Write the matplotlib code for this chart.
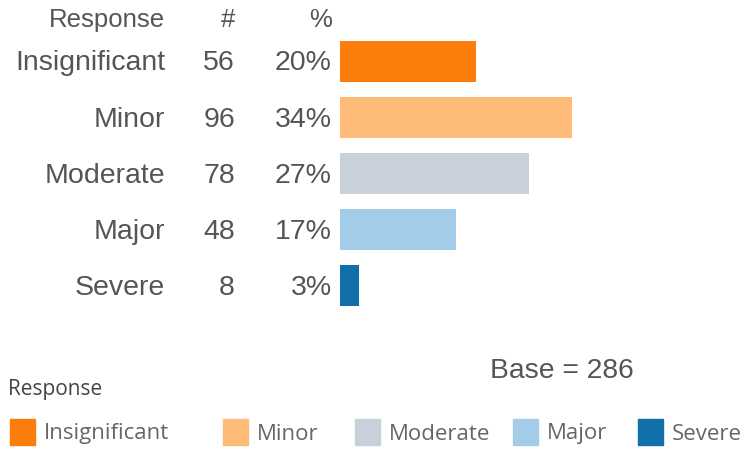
import matplotlib.pyplot as plt
import matplotlib.transforms as mtransforms
from matplotlib.patches import Rectangle

plt.rcParams['font.family'] = ['Liberation Sans', 'DejaVu Sans']

responses = ['Insignificant', 'Minor', 'Moderate', 'Major', 'Severe']
counts = [56, 96, 78, 48, 8]
percents = ['20%', '34%', '27%', '17%', '3%']
base = 286
colors = ['#FC7D0B', '#FFBC79', '#C8D0D9', '#A3CCE9', '#1170AA']

W, H = 744, 450
fig = plt.figure(figsize=(W / 100, H / 100), dpi=100)

# bar axes: starts at x=340px, rows 56px apart
ax = fig.add_axes([340 / W, 1 - 314 / H, 400 / W, 281 / H])
ypos = list(range(len(responses)))
ax.barh(ypos, counts, height=0.73, color=colors)
ax.set_xlim(0, 400 / 2.42)
ax.set_ylim(len(responses) - 0.5, -0.5)
ax.axis('off')

txtc = '#555555'
trans = mtransforms.blended_transform_factory(fig.transFigure, ax.transData)
for y, r, c, p in zip(ypos, responses, counts, percents):
    ax.text(165 / W, y + 0.04, r, transform=trans, ha='right', va='center',
            fontsize=20.5, color=txtc)
    ax.text(235 / W, y + 0.04, str(c), transform=trans, ha='right', va='center',
            fontsize=20.5, color=txtc)
    ax.text(332 / W, y + 0.04, p, transform=trans, ha='right', va='center',
            fontsize=20.5, color=txtc)

# header row
hy = 1 - 20 / H
fig.text(165 / W, hy, 'Response', ha='right', va='center', fontsize=18.5, color=txtc)
fig.text(235 / W, hy, '#', ha='right', va='center', fontsize=18.5, color=txtc)
fig.text(332 / W, hy, '%', ha='right', va='center', fontsize=18.5, color=txtc)

fig.text(562 / W, 1 - 371 / H, 'Base = %d' % base, ha='center', va='center',
         fontsize=20.3, color=txtc)

# legend
fig.text(8 / W, 1 - 389 / H, 'Response', ha='left', va='center', fontsize=15,
         family='Open Sans', color='#444444')
leg_x = [10, 223, 355, 513, 638]
for x, r, col in zip(leg_x, responses, colors):
    fig.add_artist(Rectangle((x / W, 1 - 445 / H), 25 / W, 26 / H,
                             transform=fig.transFigure, color=col))
    fig.text((x + 34) / W, 1 - 434 / H, r, ha='left', va='center',
             fontsize=16, family='Open Sans', color='#666666')

fig.savefig('out.png', dpi=100)
